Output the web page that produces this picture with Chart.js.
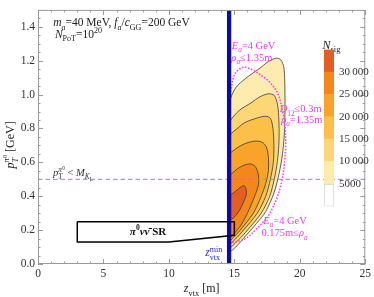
<!DOCTYPE html>
<html>
<head>
<meta charset="UTF-8">
<title>N_sig contours</title>
<script src="https://cdn.jsdelivr.net/npm/chart.js@4.4.0/dist/chart.umd.min.js"></script>
<style>
  html, body { margin: 0; padding: 0; background: #fff; }
  #wrap { position: relative; width: 374px; height: 297px; }
  #main { position: absolute; left: 0; top: 0; }
  #cbar { position: absolute; left: 324px; top: 38px; }
</style>
</head>
<body>
<div id="wrap">
  <canvas id="main" width="374" height="297"></canvas>
  <canvas id="cbar" width="50" height="180"></canvas>
</div>
<script>
// ---- values ----
var zRange = [0, 25];          // z_vtx [m]
var pRange = [0, 1.5];         // pT [GeV]
var zVtxMin = 14.6;            // blue line
var pTcut = 0.5;               // pT < M_KL dashed line

// colour bar levels (N_sig)
var cbLevels = [0, 5000, 10000, 15000, 20000, 25000, 30000, 35000];
var cbColors = ['#ffffff', '#feebb0', '#fdd675', '#fcbf47', '#f9a328', '#f5861c', '#e25e22'];

// contour outlines [z, pT], closed along z = zVtxMin
var nsig5000 = [[14.6,0.96],[15.1,1.04],[15.85,1.095],[16.85,1.15],[17.6,1.195],[18.2,1.215],[18.55,1.205],
  [18.78,1.16],[18.85,1.08],[18.87,0.93],[18.83,0.78],[18.68,0.65],[18.42,0.535],[18.03,0.42],[17.4,0.31],
  [16.7,0.24],[15.85,0.165],[15.1,0.1],[14.6,0.075],[14.6,0.5]];
var nsig10000 = [[14.6,0.84],[15.35,0.905],[16.35,0.955],[16.9,0.985],[17.6,1.005],[18.05,0.995],[18.3,0.94],
  [18.4,0.85],[18.42,0.75],[18.35,0.65],[18.2,0.56],[18.02,0.49],[17.7,0.4],[17.05,0.3],[16.0,0.2],
  [15.35,0.145],[14.6,0.1],[14.6,0.45]];
var nsig15000 = [[14.6,0.76],[15.3,0.805],[15.8,0.835],[16.8,0.863],[17.4,0.872],[17.75,0.86],[17.95,0.8],
  [18.02,0.7],[17.98,0.6],[17.75,0.5],[17.4,0.4],[16.75,0.3],[15.7,0.2],[15.05,0.145],[14.6,0.12],[14.6,0.45]];
var nsig20000 = [[14.6,0.65],[15.2,0.685],[15.8,0.71],[16.5,0.725],[17.1,0.72],[17.45,0.69],[17.6,0.63],
  [17.6,0.55],[17.42,0.48],[17.05,0.4],[16.45,0.3],[15.45,0.2],[14.9,0.155],[14.6,0.135],[14.6,0.4]];
var nsig25000 = [[14.6,0.52],[15.2,0.56],[15.8,0.585],[16.3,0.59],[16.65,0.57],[16.85,0.52],[16.85,0.47],
  [16.55,0.4],[16.0,0.3],[15.55,0.235],[15.1,0.19],[14.6,0.16],[14.6,0.35]];
var nsig30000 = [[14.6,0.40],[15.1,0.43],[15.5,0.455],[15.75,0.462],[15.9,0.44],[15.9,0.405],[15.7,0.365],
  [15.45,0.325],[15.15,0.29],[14.9,0.27],[14.6,0.26],[14.6,0.33]];

// magenta dotted acceptance boundary
var accBoundary = [[14.65,0.93],[14.8,1.05],[15.1,1.13],[15.75,1.162],[16.4,1.145],[16.9,1.122],[17.65,1.077],
  [18.3,1.01],[18.68,0.905],[18.88,0.8],[18.92,0.707],[18.83,0.593],[18.6,0.48],[18.25,0.39],[17.85,0.32],
  [17.45,0.27],[16.6,0.2],[15.9,0.152],[15.1,0.13],[14.65,0.125]];

// pi0 nu nubar signal region outline
var srBox = [[3,0.25],[15,0.25],[15,0.17],[10,0.13],[3,0.13],[3,0.25]];

// ---- helpers ----
var FONT = '"Liberation Serif", "DejaVu Serif", serif';
function pts(a) { return a.map(function (q) { return { x: q[0], y: q[1] }; }); }
function closed(a) { return pts(a.concat([a[0]])); }
function I(t) { return { t: t, it: true }; }
function SUB(t, it) { return { t: t, it: !!it, sc: 0.7, dy: 0.3 }; }
function SUP(t, it) { return { t: t, it: !!it, sc: 0.7, dy: -0.4 }; }
function STACK(o) { o.stack = true; return o; }

function drawRich(ctx, parts, x, y, size, color, align, bold) {
  var runs = [], cx = 0, start = 0;
  parts.forEach(function (p) {
    if (typeof p === 'string') p = { t: p };
    var fs = size * (p.sc || 1);
    var font = (p.it ? 'italic ' : '') + (bold ? 'bold ' : '') + fs + 'px ' + FONT;
    ctx.font = font;
    var w = ctx.measureText(p.t).width;
    var sx = p.stack ? start : cx;
    if (!p.stack) start = sx;
    runs.push({ t: p.t, font: font, x: sx, dy: (p.dy || 0) * size });
    cx = p.stack ? Math.max(cx, sx + w) : sx + w;
  });
  var off = align === 'center' ? -cx / 2 : 0;
  ctx.fillStyle = color;
  ctx.textBaseline = 'alphabetic';
  ctx.textAlign = 'left';
  runs.forEach(function (r) { ctx.font = r.font; ctx.fillText(r.t, x + off + r.x, y + r.dy); });
}

var PI0 = [I('p'), SUB('T', 1), STACK(SUP('π', 1)), { t: '0', sc: 0.5, dy: -0.62 }];
var MAG = '#f03cf0';

// text notes, anchored in data coordinates
var notes = [
  { z: 1.16, p: 1.403, size: 11.5, color: '#222', parts: [I('m'), SUB('a', 1), '=40 MeV, ', I('f'), SUB('a', 1), '/', I('c'), SUB('GG'), '=200 GeV'] },
  { z: 1.29, p: 1.335, size: 11.5, color: '#222', parts: [I('N'), SUB('PoT'), '=10', SUP('20')] },
  { z: 1.14, p: 0.519, size: 10.5, color: '#333', parts: PI0.concat([' < ', I('M'), SUB('K', 1), { t: 'L', sc: 0.5, dy: 0.45 }]) },
  { z: 14.8, p: 1.272, size: 10.5, color: MAG, parts: [I('E'), SUB('a', 1), '=4 GeV'] },
  { z: 14.77, p: 1.20, size: 10.5, color: MAG, parts: [I('ρ'), SUB('a', 1), '≤1.35m'] },
  { z: 18.46, p: 0.895, size: 10.5, color: MAG, parts: [I('D'), SUB('12'), '≤0.3m'] },
  { z: 18.58, p: 0.833, size: 10.5, color: MAG, parts: [I('ρ'), SUB('a', 1), '=1.35m'] },
  { z: 17.2, p: 0.237, size: 10.5, color: MAG, parts: [I('E'), SUB('a', 1), '=4 GeV'] },
  { z: 17.07, p: 0.163, size: 10.5, color: MAG, parts: ['0.175m≤', I('ρ'), SUB('a', 1)] },
  { z: 12.78, p: 0.046, size: 11.5, color: '#2b2bd0', parts: [I('z'), SUB('vtx'), STACK(SUP('min'))] },
  { z: 8.41, p: 0.174, size: 11, color: '#111', bold: true, align: 'center', parts: [I('π'), SUP('0'), I('ν'), I('ν\u0304'), ' SR'] },
  { z: 21.74, p: 1.272, size: 12, color: '#222', parts: [I('N'), SUB('sig')] }
];

function contourSet(data, color, order) {
  return { data: closed(data), backgroundColor: color, borderColor: '#3a3a3a', borderWidth: 0.8,
           fill: 'shape', tension: 0.3, order: order };
}

var decor = {
  id: 'decor',
  afterDatasetsDraw: function (chart) {
    var ctx = chart.ctx, a = chart.chartArea, xs = chart.scales.x, ys = chart.scales.y;
    ctx.save();
    ctx.strokeStyle = '#9a9a9a';
    ctx.lineWidth = 1;
    ctx.strokeRect(a.left + 0.5, a.top + 0.5, a.right - a.left - 1, a.bottom - a.top - 1);
    ctx.beginPath();
    for (var v = 0; v <= 25; v++) {
      var px = Math.round(xs.getPixelForValue(v)) + 0.5;
      var len = v % 5 === 0 ? 5 : 2.5;
      ctx.moveTo(px, a.bottom); ctx.lineTo(px, a.bottom - len);
      ctx.moveTo(px, a.top); ctx.lineTo(px, a.top + len);
    }
    for (var k = 0; k <= 30; k++) {
      var py = Math.round(ys.getPixelForValue(k * 0.05)) + 0.5;
      var l2 = k % 4 === 0 ? 5 : 2.5;
      ctx.moveTo(a.left, py); ctx.lineTo(a.left + l2, py);
      ctx.moveTo(a.right, py); ctx.lineTo(a.right - l2, py);
    }
    ctx.stroke();

    notes.forEach(function (n) {
      drawRich(ctx, n.parts, xs.getPixelForValue(n.z), ys.getPixelForValue(n.p), n.size, n.color, n.align, n.bold);
    });

    // axis titles
    drawRich(ctx, [I('z'), SUB('vtx'), ' [m]'], (a.left + a.right) / 2, a.bottom + 28, 12, '#222', 'center');
    ctx.translate(a.left - 24, a.top + 135);
    ctx.rotate(-Math.PI / 2);
    drawRich(ctx, PI0.concat([' [GeV]']), 0, 0, 12, '#222', 'center');
    ctx.restore();
  }
};

new Chart(document.getElementById('main'), {
  type: 'line',
  data: {
    datasets: [
      contourSet(nsig5000, cbColors[1], 20),
      contourSet(nsig10000, cbColors[2], 19),
      contourSet(nsig15000, cbColors[3], 18),
      contourSet(nsig20000, cbColors[4], 17),
      contourSet(nsig25000, cbColors[5], 16),
      contourSet(nsig30000, cbColors[6], 15),
      { data: pts(accBoundary), borderColor: '#ff3cff', borderWidth: 1.7, borderDash: [0.1, 3],
        borderCapStyle: 'round', fill: false, tension: 0.35, order: 5 },
      { data: pts([[zRange[0], pTcut], [zRange[1], pTcut]]), borderColor: '#a57bd2', borderWidth: 1,
        borderDash: [4.5, 3], fill: false, order: 4 },
      { data: pts([[zVtxMin, pRange[0]], [zVtxMin, pRange[1]]]), borderColor: '#0c0c9c', borderWidth: 4.3,
        fill: false, order: 2 },
      { data: pts(srBox), borderColor: '#000', borderWidth: 1.5, fill: false, order: 1 }
    ]
  },
  options: {
    responsive: false, animation: false, devicePixelRatio: 1, events: [],
    layout: { padding: { left: 0, right: 6, top: 1, bottom: 0 } },
    elements: { point: { radius: 0, hitRadius: 0, hoverRadius: 0 } },
    plugins: { legend: { display: false }, tooltip: { enabled: false }, filler: { propagate: false } },
    scales: {
      x: { type: 'linear', min: zRange[0], max: zRange[1], grid: { display: false, drawTicks: false }, border: { display: false },
           ticks: { stepSize: 5, padding: 3, color: '#333', maxRotation: 0, font: { family: FONT, size: 11.5 },
                    callback: function (v) { return String(v); } },
           afterFit: function (s) { s.height = 33; } },
      y: { type: 'linear', min: pRange[0], max: pRange[1], grid: { display: false, drawTicks: false }, border: { display: false },
           ticks: { stepSize: 0.2, includeBounds: false, padding: 3, color: '#333', font: { family: FONT, size: 11.5 },
                    callback: function (v) { return v.toFixed(1); } },
           afterFit: function (s) { s.width = 38; } }
    }
  },
  plugins: [decor]
});

// colour bar as a stacked single bar
new Chart(document.getElementById('cbar'), {
  type: 'bar',
  data: {
    labels: [''],
    datasets: cbColors.map(function (c, i) {
      return { data: [cbLevels[i + 1] - cbLevels[i]], backgroundColor: c, borderColor: '#d4d4d4',
               borderWidth: i === 0 ? 1 : 0, borderSkipped: false, barPercentage: 1, categoryPercentage: 1 };
    })
  },
  options: {
    responsive: false, animation: false, devicePixelRatio: 1, events: [],
    layout: { padding: { left: 0, right: 0, top: 8.8, bottom: 9.8 } },
    plugins: { legend: { display: false }, tooltip: { enabled: false } },
    scales: {
      x: { stacked: true, display: false },
      y: { stacked: true, position: 'right', min: cbLevels[0], max: cbLevels[cbLevels.length - 1],
           grid: { display: false, drawTicks: false }, border: { display: false },
           ticks: { stepSize: 5000, padding: 5, color: '#333', font: { family: FONT, size: 11 },
                    callback: function (v) {
                      if (v <= 0 || v >= 35000) return '';
                      return v >= 10000 ? Math.floor(v / 1000) + '\u2009000' : String(v);
                    } },
           afterFit: function (s) { s.width = 40; } }
    }
  }
});
</script>
</body>
</html>
